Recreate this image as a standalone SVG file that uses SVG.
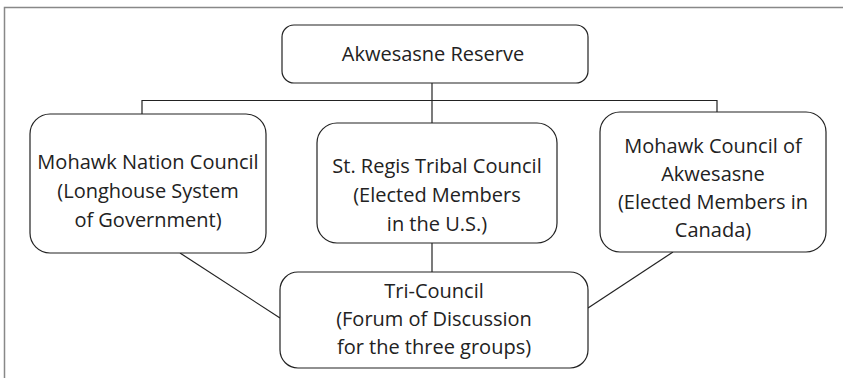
<svg xmlns="http://www.w3.org/2000/svg" width="843" height="378" viewBox="0 0 843 378">
<style>
.box{fill:#fff;stroke:#222;stroke-width:1.2}
.ln{fill:none;stroke:#222;stroke-width:1.2}
.t{font-family:"Open Sans","Liberation Sans",sans-serif;font-size:20px;fill:#222;text-anchor:middle}
</style>
<rect width="843" height="378" fill="#fff"/>
<path d="M4.5,378 V7.5 H843" fill="none" stroke="#888" stroke-width="1.5"/>
<g id="connectors">
<path class="ln" d="M432,83 V123"/>
<path class="ln" d="M142,114 V100.5 H717 V112"/>
<path class="ln" d="M432,243 V272"/>
<path class="ln" d="M180,253 L280,318"/>
<path class="ln" d="M673,252 L588,308"/>
</g>
<g id="n-reserve">
<rect class="box" x="282" y="25" width="306" height="58" rx="12"/>
<text class="t" x="433" y="61">Akwesasne Reserve</text>
</g>
<g id="n-mohawk-nation">
<rect class="box" x="30" y="114" width="236" height="139" rx="20"/>
<text class="t" x="148" y="169">Mohawk Nation Council</text>
<text class="t" x="148" y="198">(Longhouse System</text>
<text class="t" x="148" y="227">of Government)</text>
</g>
<g id="n-st-regis">
<rect class="box" x="317" y="123" width="240" height="120" rx="20"/>
<text class="t" x="437" y="173">St. Regis Tribal Council</text>
<text class="t" x="437" y="202">(Elected Members</text>
<text class="t" x="437" y="231">in the U.S.)</text>
</g>
<g id="n-mohawk-akwesasne">
<rect class="box" x="600" y="112" width="226" height="140" rx="20"/>
<text class="t" x="713" y="153">Mohawk Council of</text>
<text class="t" x="713" y="181">Akwesasne</text>
<text class="t" x="713" y="209">(Elected Members in</text>
<text class="t" x="713" y="237">Canada)</text>
</g>
<g id="n-tri-council">
<rect class="box" x="280" y="272" width="308" height="96" rx="18"/>
<text class="t" x="434" y="298">Tri-Council</text>
<text class="t" x="434" y="326">(Forum of Discussion</text>
<text class="t" x="434" y="354">for the three groups)</text>
</g>
</svg>
